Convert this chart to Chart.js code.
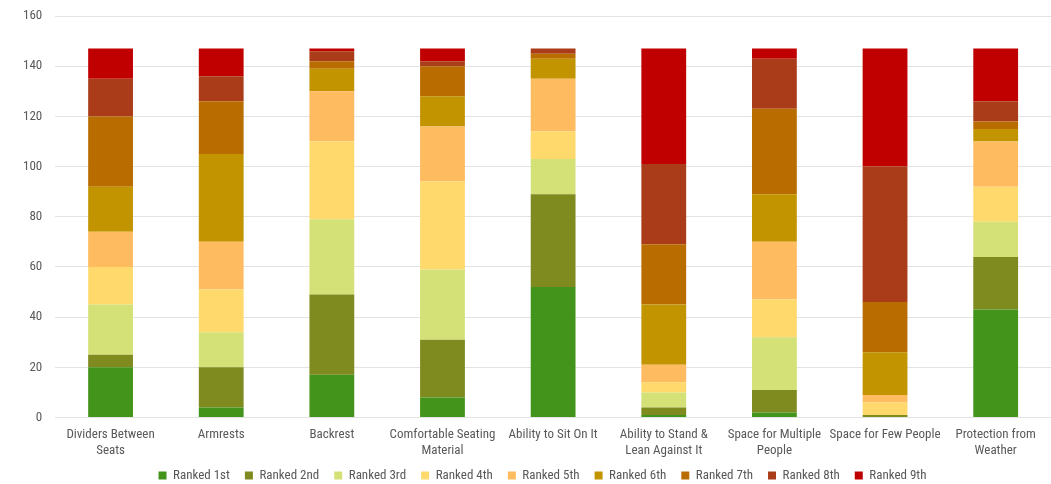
<!DOCTYPE html>
<html>
<head>
<meta charset="utf-8">
<script src="https://cdn.jsdelivr.net/npm/chart.js@4/dist/chart.umd.min.js"></script>
<style>
  html, body { margin: 0; padding: 0; background: #ffffff; overflow: hidden; }
  #wrap { width: 1051px; height: 484px; position: relative; }
  #c { display: block; }
</style>
</head>
<body>
<div id="wrap"><canvas id="c"></canvas></div>
<script>
// Seating features (multi-line labels as arrays)
const categories = [
  ["Dividers Between", "Seats"],
  "Armrests",
  "Backrest",
  ["Comfortable Seating", "Material"],
  "Ability to Sit On It",
  ["Ability to Stand &", "Lean Against It"],
  ["Space for Multiple", "People"],
  "Space for Few People",
  ["Protection from", "Weather"]
];

const rankNames = ["Ranked 1st", "Ranked 2nd", "Ranked 3rd", "Ranked 4th", "Ranked 5th",
                   "Ranked 6th", "Ranked 7th", "Ranked 8th", "Ranked 9th"];

// Number of respondents giving each rank, per feature
const ranked1st = [20,  4, 17,  8, 52,  1,  2,  0, 43];
const ranked2nd = [ 5, 16, 32, 23, 37,  3,  9,  1, 21];
const ranked3rd = [20, 14, 30, 28, 14,  6, 21,  0, 14];
const ranked4th = [15, 17, 31, 35, 11,  4, 15,  5, 14];
const ranked5th = [14, 19, 20, 22, 21,  7, 23,  3, 18];
const ranked6th = [18, 35,  9, 12,  8, 24, 19, 17,  5];
const ranked7th = [28, 21,  3, 12,  2, 24, 34, 20,  3];
const ranked8th = [15, 10,  4,  2,  2, 32, 20, 54,  8];
const ranked9th = [12, 11,  1,  5,  0, 46,  4, 47, 21];

const yTicks = [0, 20, 40, 60, 80, 100, 120, 140, 160];

const seriesValues = [ranked1st, ranked2nd, ranked3rd, ranked4th, ranked5th,
                      ranked6th, ranked7th, ranked8th, ranked9th];
const seriesColors = ["#43941a", "#7f8a1f", "#d4e176", "#ffd96b", "#ffbb60",
                      "#c29500", "#b96c00", "#ab3c19", "#c00000"];

const datasets = seriesValues.map((vals, i) => ({
  label: rankNames[i],
  data: vals,
  backgroundColor: seriesColors[i],
  borderWidth: 0,
  categoryPercentage: 1.0,
  barPercentage: 0.405
}));

const FONT = "'Liberation Sans Narrow', 'Roboto Condensed', Roboto, sans-serif";

// Legend: reserve less height than it asks for, then extend its box upward
// (top only, so the clip region still contains the labels) and nudge it right
const LEGEND_TRIM = 14;
const LEGEND_LIFT = 6;
const LEGEND_SHIFT_X = 12;
const compactLegend = {
  id: "compactLegend",
  afterInit(chart) {
    const lg = chart.legend;
    if (!lg || lg._compact) return;
    const fit = lg.fit.bind(lg);
    lg.fit = function () {
      fit();
      this.height = Math.max(0, this.height - LEGEND_TRIM);
    };
    lg._compact = true;
  },
  afterLayout(chart) {
    const lg = chart.legend;
    if (!lg) return;
    lg.top -= LEGEND_LIFT;
    lg.left += LEGEND_SHIFT_X;
    lg.right += LEGEND_SHIFT_X;
  }
};

new Chart(document.getElementById("c"), {
  type: "bar",
  data: { labels: categories, datasets },
  plugins: [compactLegend],
  options: {
    responsive: true,
    maintainAspectRatio: false,
    animation: false,
    layout: { padding: { top: 16, left: 10, right: 0, bottom: 0 } },
    plugins: {
      tooltip: { enabled: false },
      legend: {
        position: "bottom",
        labels: {
          boxWidth: 8,
          boxHeight: 8,
          padding: 15,
          color: "#595959",
          font: { family: FONT, size: 13 }
        }
      }
    },
    scales: {
      x: {
        stacked: true,
        grid: { display: false },
        border: { display: false },
        afterFit: (axis) => { axis.paddingLeft = 0; axis.paddingRight = 0; },
        ticks: {
          color: "#595959",
          padding: 1,
          font: { family: FONT, size: 13, lineHeight: 1.25 },
          maxRotation: 0,
          autoSkip: false
        }
      },
      y: {
        stacked: true,
        min: 0,
        max: 160,
        afterBuildTicks: (axis) => { axis.ticks = yTicks.map(v => ({ value: v })); },
        afterFit: (axis) => { axis.paddingTop = 0; axis.paddingBottom = 0; },
        grid: { color: "#e3e3e3", lineWidth: 1, drawTicks: false },
        border: { display: false },
        ticks: {
          color: "#595959",
          padding: 13,
          font: { family: FONT, size: 13 }
        }
      }
    }
  }
});
</script>
</body>
</html>
